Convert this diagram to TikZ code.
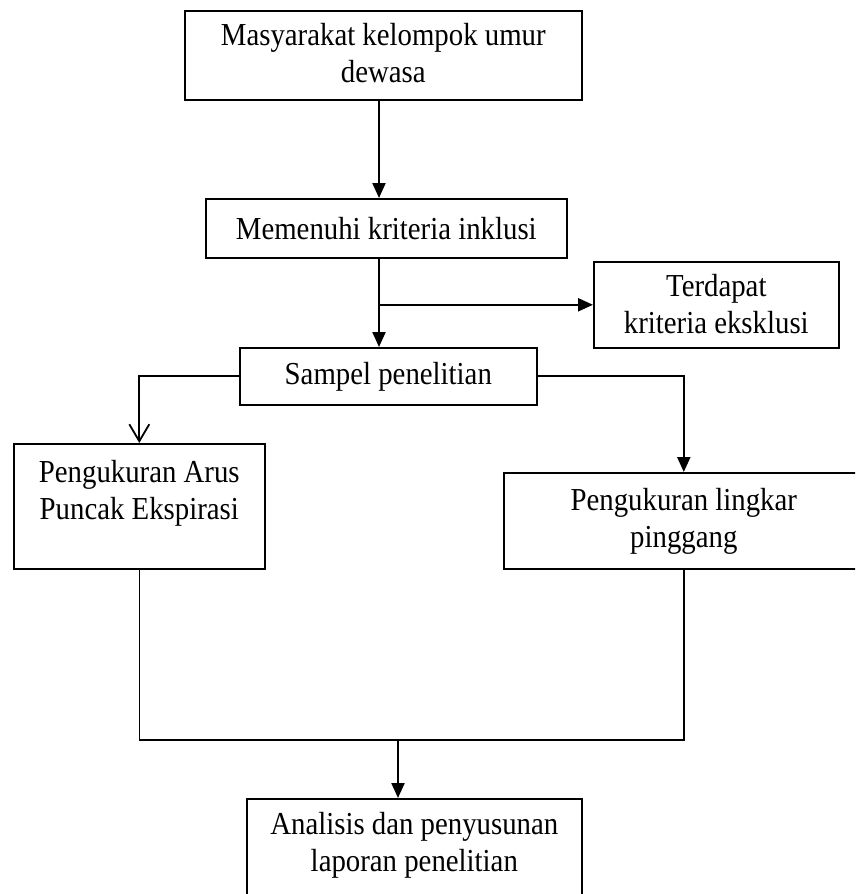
\documentclass[tikz,border=0pt]{standalone}
\usepackage{fontspec}
\setmainfont{Liberation Serif}[FakeStretch=0.9]
\usetikzlibrary{arrows.meta}
\begin{document}
\begin{tikzpicture}[x=1pt,y=-1pt,
  box/.style={draw, line width=1.6pt, rectangle, inner sep=0pt, anchor=north west},
  txt/.style={align=center, inner sep=0pt, font=\fontsize{32}{37}\selectfont},
  arr/.style={line width=2.2pt, -{Triangle[length=15pt,width=13pt]}},
  openarr/.style={line width=1.8pt, -{Straight Barb[length=17pt,width=20pt,line width=1.8pt]}},
  joinline/.style={line width=1.6pt}]
\useasboundingbox (0,0) rectangle (855,894);
\clip (0,0) rectangle (855,894);
% boxes
\node[box, minimum width=397pt, minimum height=89pt] (box1) at (184,10) {};
\node[txt] (box1t) at ([yshift=2pt]box1.center) {Masyarakat kelompok umur\\dewasa};
\node[box, minimum width=361pt, minimum height=59pt] (box2) at (205,198) {};
\node[txt] (box2t) at (box2.center) {Memenuhi kriteria inklusi};
\node[box, minimum width=245pt, minimum height=86pt] (terd) at (593,261) {};
\node[txt] (terdt) at ([yshift=1pt]terd.center) {Terdapat\\kriteria eksklusi};
\node[box, minimum width=297pt, minimum height=57pt] (samp) at (239,347) {};
\node[txt] (sampt) at (samp.center) {Sampel penelitian};
\node[box, minimum width=251pt, minimum height=125pt] (pape) at (13,443) {};
\node[txt, anchor=north] (papet) at ([yshift=-17pt]pape.north) {Pengukuran Arus\\Puncak Ekspirasi};
\node[box, minimum width=360pt, minimum height=96pt] (ling) at (503,472) {};
\node[txt] (lingt) at ([yshift=-1pt]ling.center) {Pengukuran lingkar\\pinggang};
\node[box, minimum width=335pt, minimum height=110pt] (final) at (246,798) {};
\node[txt, anchor=north] (finalt) at ([yshift=-14pt]final.north) {Analisis dan penyusunan\\laporan penelitian};
% helper coordinates
\coordinate (c1) at (379,0);
\coordinate (jy) at (0,740);
\coordinate (c2) at (398,0);
% connectors
\draw[arr] (box1.south -| c1) -- (box2.north -| c1);
\draw[arr] (box2.south -| c1) -- (samp.north -| c1);
\draw[arr] (c1 |- terd.west) -- (terd.west);
\draw[openarr] (samp.west) -| (pape.north);
\draw[arr] (samp.east) -| (ling.north);
\draw[joinline] (pape.south) -- (pape.south |- jy) -- (ling.south |- jy) -- (ling.south);
\draw[arr] (c2 |- jy) -- (final.north -| c2);
\end{tikzpicture}
\end{document}
